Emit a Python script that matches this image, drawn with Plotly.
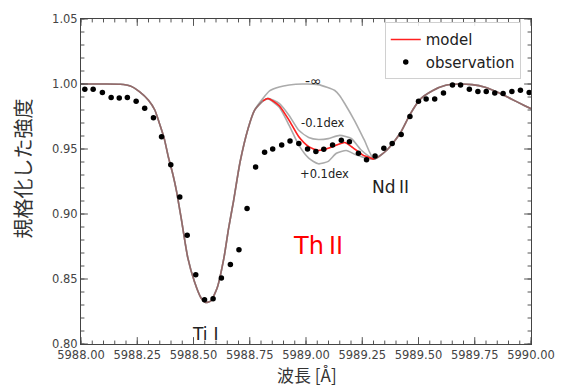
import plotly.graph_objects as go

# ---------------- data ----------------
obs_x = [5988.017, 5988.054, 5988.095, 5988.134, 5988.170, 5988.206, 5988.245, 5988.283,
         5988.322, 5988.358, 5988.399, 5988.439, 5988.472, 5988.510, 5988.549, 5988.587,
         5988.624, 5988.664, 5988.702, 5988.738, 5988.776, 5988.816, 5988.852, 5988.892,
         5988.929, 5988.968, 5989.007, 5989.044, 5989.079, 5989.118, 5989.157, 5989.193,
         5989.233, 5989.269, 5989.307, 5989.346, 5989.383, 5989.423, 5989.462, 5989.500,
         5989.534, 5989.572, 5989.611, 5989.651, 5989.687, 5989.726, 5989.764, 5989.801,
         5989.839, 5989.876, 5989.915, 5989.953, 5989.992]
obs_y = [0.9960, 0.9960, 0.9935, 0.9897, 0.9892, 0.9897, 0.9867, 0.9814,
         0.9740, 0.9594, 0.9379, 0.9130, 0.8836, 0.8533, 0.8341, 0.8348,
         0.8508, 0.8611, 0.8725, 0.9043, 0.9361, 0.9475, 0.9500, 0.9530,
         0.9561, 0.9543, 0.9500, 0.9480, 0.9498, 0.9530, 0.9568, 0.9556,
         0.9467, 0.9417, 0.9447, 0.9505, 0.9543, 0.9611, 0.9750, 0.9867,
         0.9884, 0.9884, 0.9930, 0.9992, 0.9992, 0.9960, 0.9942, 0.9942,
         0.9930, 0.9927, 0.9942, 0.9952, 0.9935]

# synthetic spectrum: part shared by all curves (Ti I line)
left_x = [5988.000, 5988.100, 5988.174, 5988.219, 5988.261, 5988.300, 5988.328, 5988.348,
          5988.370, 5988.388, 5988.409, 5988.424, 5988.446, 5988.475, 5988.504, 5988.533,
          5988.554, 5988.576, 5988.605, 5988.635, 5988.656, 5988.678, 5988.707, 5988.743,
          5988.772]
left_y = [1.0000, 1.0000, 0.9998, 0.9985, 0.9940, 0.9875, 0.9800, 0.9700,
          0.9580, 0.9440, 0.9300, 0.9180, 0.8960, 0.8660, 0.8480, 0.8356,
          0.8320, 0.8330, 0.8430, 0.8660, 0.8890, 0.9100, 0.9400, 0.9660,
          0.9800]

# Th II region for each abundance
ninf_x = [5988.809, 5988.838, 5988.881, 5988.925, 5988.983, 5989.055, 5989.128,
          5989.150, 5989.172, 5989.215, 5989.259, 5989.302]
ninf_y = [0.9890, 0.9947, 0.9977, 0.9992, 1.0000, 0.9995, 0.9950,
          0.9910, 0.9850, 0.9720, 0.9570, 0.9422]

model_x = [5988.809, 5988.831, 5988.881, 5988.925, 5988.968, 5989.012, 5989.055,
           5989.099, 5989.128, 5989.172, 5989.208, 5989.251, 5989.302]
model_y = [0.9870, 0.9888, 0.9833, 0.9720, 0.9594, 0.9518, 0.9488,
           0.9505, 0.9525, 0.9550, 0.9511, 0.9455, 0.9422]

minus_x = [5988.809, 5988.831, 5988.881, 5988.925, 5988.968, 5989.012, 5989.055,
           5989.099, 5989.150, 5989.201, 5989.245, 5989.281, 5989.302]
minus_y = [0.9872, 0.9890, 0.9851, 0.9758, 0.9644, 0.9589, 0.9573,
           0.9580, 0.9605, 0.9581, 0.9492, 0.9442, 0.9422]

plus_x = [5988.809, 5988.831, 5988.881, 5988.925, 5988.968, 5989.012, 5989.055,
          5989.099, 5989.135, 5989.179, 5989.222, 5989.266, 5989.302]
plus_y = [0.9868, 0.9885, 0.9821, 0.9682, 0.9530, 0.9430, 0.9386,
          0.9405, 0.9467, 0.9488, 0.9455, 0.9430, 0.9422]

# shared part after Nd II line
right_x = [5989.360, 5989.418, 5989.462, 5989.506, 5989.564, 5989.621, 5989.680,
           5989.738, 5989.796, 5989.854, 5989.912, 5989.970, 5990.000]
right_y = [0.9492, 0.9619, 0.9765, 0.9880, 0.9950, 0.9990, 1.0000,
           0.9995, 0.9975, 0.9935, 0.9885, 0.9835, 0.9810]

# axis tick definitions
X_MIN, X_MAX, X_MAJOR, X_MINOR = 5988.0, 5990.0, 0.25, 0.05
Y_MIN, Y_MAX, Y_MAJOR, Y_MINOR = 0.80, 1.05, 0.05, 0.01

# ---------------- figure ----------------
fig = go.Figure()

def full(mx, my):
    return left_x + mx + right_x, left_y + my + right_y

GRAY = "rgba(120,120,120,0.62)"
LINE = dict(width=1.6, shape="spline", smoothing=0.6)

for cx, cy in [(ninf_x, ninf_y), (minus_x, minus_y), (plus_x, plus_y)]:
    gx, gy = full(cx, cy)
    fig.add_trace(go.Scatter(x=gx, y=gy, mode="lines", showlegend=False,
                             line=dict(color=GRAY, **LINE), hoverinfo="skip"))

mx, my = full(model_x, model_y)
fig.add_trace(go.Scatter(x=mx, y=my, mode="lines", showlegend=False,
                         line=dict(color="rgba(255,0,0,0.17)", **LINE)))
fig.add_trace(go.Scatter(x=model_x, y=model_y, mode="lines", name="model",
                         line=dict(color="#ff2020", **LINE)))

fig.add_trace(go.Scatter(x=obs_x, y=obs_y, mode="markers", name="observation",
                         marker=dict(color="black", size=5.5)))

# inside tick marks on all four sides, drawn as a line trace in axis units
PLOT_W, PLOT_H = 459.0, 330.0
px_x = (X_MAX - X_MIN) / PLOT_W
px_y = (Y_MAX - Y_MIN) / PLOT_H

def tick_positions(lo, hi, step):
    n = int(round((hi - lo) / step))
    return [lo + i * step for i in range(n + 1)]

for step_x, step_y, ln in [(X_MINOR, Y_MINOR, 3.5), (X_MAJOR, Y_MAJOR, 7.0)]:
    tx, ty = [], []
    for v in tick_positions(X_MIN, X_MAX, step_x):
        tx += [v, v, None, v, v, None]
        ty += [Y_MIN, Y_MIN + ln * px_y, None, Y_MAX, Y_MAX - ln * px_y, None]
    for v in tick_positions(Y_MIN, Y_MAX, step_y):
        tx += [X_MIN, X_MIN + ln * px_x, None, X_MAX, X_MAX - ln * px_x, None]
        ty += [v, v, None, v, v, None]
    fig.add_trace(go.Scatter(x=tx, y=ty, mode="lines", showlegend=False,
                             hoverinfo="skip", cliponaxis=False,
                             line=dict(color="#555", width=1)))

common = dict(showline=True, linecolor="#444", linewidth=1, mirror=True,
              ticks="", showgrid=False, zeroline=False, tickmode="linear",
              tickformat=".2f",
              tickfont=dict(family="DejaVu Sans", size=11.5, color="#444"))
fig.update_xaxes(range=[X_MIN, X_MAX], tick0=X_MIN, dtick=X_MAJOR, **common)
fig.update_yaxes(range=[Y_MIN, Y_MAX], tick0=Y_MIN, dtick=Y_MAJOR, **common)

CJK = "font-family:'Noto Sans CJK JP'"
txt = dict(family="DejaVu Sans, Noto Sans CJK JP", color="#222")
annos = [
    dict(x=5989.035, y=1.0025, text="-∞", font=dict(size=14, **txt)),
    dict(x=5989.075, y=0.9700, text="-0.1dex", font=dict(size=11.5, **txt)),
    dict(x=5989.080, y=0.9305, text="+0.1dex", font=dict(size=11.5, **txt)),
    dict(x=5989.385, y=0.9220, text=f"Nd<span style=\"{CJK}\">Ⅱ</span>", font=dict(size=17, **txt)),
    dict(x=5988.565, y=0.8090, text=f"Ti<span style=\"{CJK}\">Ⅰ</span>", font=dict(size=17, **txt)),
    dict(x=5989.065, y=0.8775, text=f"Th<span style=\"{CJK}\">Ⅱ</span>",
         font=dict(size=24, family="DejaVu Sans, Noto Sans CJK JP", color="#ff0000")),
]
for a in annos:
    fig.add_annotation(xref="x", yref="y", showarrow=False, **a)

fig.add_annotation(xref="paper", yref="paper", x=0.503, y=-0.095, text="波長 [Å]",
                   showarrow=False, yanchor="middle",
                   font=dict(family="Noto Sans CJK JP", size=17, color="#333"))
fig.add_annotation(xref="paper", yref="paper", x=-0.131, y=0.54, text="規格化した強度",
                   showarrow=False, textangle=-90, xanchor="center", yanchor="middle",
                   font=dict(family="Noto Sans CJK JP", size=20, color="#333"))

fig.update_layout(
    width=567, height=387,
    margin=dict(l=81, r=27, t=14, b=43),
    plot_bgcolor="white", paper_bgcolor="white",
    legend=dict(x=0.675, y=0.99, xanchor="left", yanchor="top",
                bordercolor="#d0d0d0", borderwidth=1, bgcolor="rgba(255,255,255,0.85)",
                font=dict(family="DejaVu Sans", size=15, color="#222"),
                itemwidth=30, tracegroupgap=2),
    showlegend=True,
)

fig.write_html("out.html")
